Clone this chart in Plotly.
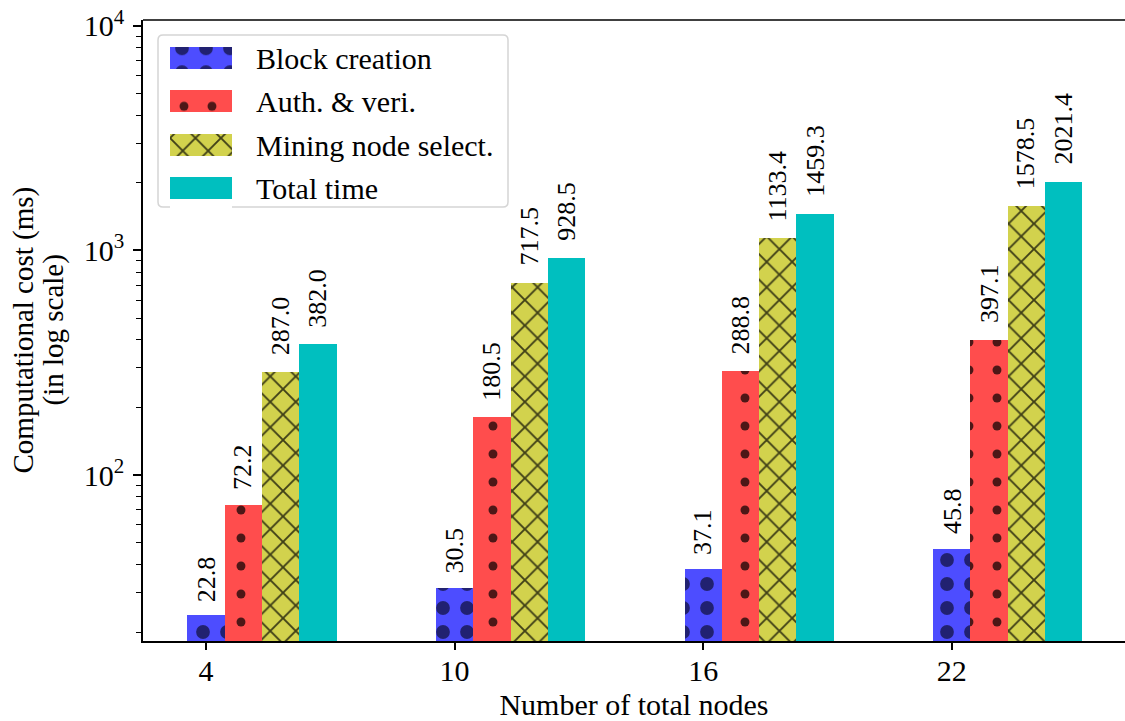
import math
import plotly.graph_objects as go

# Number of total nodes on the x axis
nodes = [4, 10, 16, 22]

# Computational cost (ms) per stage
block_creation = [22.8, 30.5, 37.1, 45.8]
auth_veri = [72.2, 180.5, 288.8, 397.1]
mining_select = [287.0, 717.5, 1133.4, 1578.5]
total_time = [382.0, 928.5, 1459.3, 2021.4]

series_names = ["Block creation", "Auth. & veri.", "Mining node select.", "Total time"]
series_values = [block_creation, auth_veri, mining_select, total_time]

y_tick_vals = [100, 1000, 10000]
y_tick_text = ["10<sup>2</sup>", "10<sup>3</sup>", "10<sup>4</sup>"]
y_title_lines = ["Computational cost (ms)", "(in log scale)"]

FONT = "Liberation Serif"
W, H = 1125, 721
M_L, M_R, M_T, M_B = 143, 0, 20, 80
PW, PH = W - M_L - M_R, H - M_T - M_B

BAR_W = 0.9
fills = ["#4d4dff", "#ff4d4d", "#d2d24d", "#00bfbf"]
patterns = [
    dict(shape=".", size=24, solidity=0.26, fgcolor="#17174d", fgopacity=0.8),
    dict(shape=".", size=28, solidity=0.08, fgcolor="#4d1717", fgopacity=1),
    dict(shape="x", size=18, solidity=0.2, fgcolor="#3f3f17", fgopacity=1),
    dict(shape=""),
]


def px_x(x):
    return (x - M_L) / PW


def px_y(y):
    return (H - M_B - y) / PH


fig = go.Figure()

for i, (name, vals) in enumerate(zip(series_names, series_values)):
    fig.add_trace(go.Bar(
        x=nodes, y=vals, name=name, base=1,
        width=BAR_W, offset=-BAR_W / 2 + i * BAR_W,
        marker=dict(color=fills[i], line=dict(width=0), pattern=patterns[i]),
        showlegend=False,
    ))
    # value labels above each bar (log axis: annotation y is log10 of the value)
    for n, v in zip(nodes, vals):
        fig.add_annotation(
            x=n + i * BAR_W, y=math.log10(v), xref="x", yref="y",
            text=f"{v:.1f}", textangle=-90, showarrow=False,
            xanchor="center", yanchor="bottom", yshift=15,
            font=dict(family=FONT, size=26, color="black"),
        )

# Legend swatches: small horizontal bars on their own axes
leg_rows = [58, 101.5, 145, 188.5]
row_h = leg_rows[1] - leg_rows[0]
for i, name in enumerate(series_names):
    fig.add_trace(go.Bar(
        x=[1], y=[i], orientation="h", base=0, width=0.51,
        marker=dict(color=fills[i], line=dict(width=0), pattern=patterns[i]),
        xaxis="x2", yaxis="y2", showlegend=False, hoverinfo="skip",
    ))
    fig.add_annotation(
        x=px_x(254), y=px_y(leg_rows[i]), xref="paper", yref="paper",
        text=name, showarrow=False, xanchor="left", yanchor="middle",
        font=dict(family=FONT, size=30, color="black"),
    )

# Legend frame with rounded corners
x0, x1 = px_x(158), px_x(508)
y0, y1 = px_y(207), px_y(35)
rx, ry = 5 / PW, 5 / PH
frame = (f"M{x0+rx},{y1} L{x1-rx},{y1} Q{x1},{y1} {x1},{y1-ry} "
         f"L{x1},{y0+ry} Q{x1},{y0} {x1-rx},{y0} L{x0+rx},{y0} "
         f"Q{x0},{y0} {x0},{y0+ry} L{x0},{y1-ry} Q{x0},{y1} {x0+rx},{y1} Z")
fig.add_shape(type="path", path=frame, xref="paper", yref="paper",
              line=dict(color="#d5d5d5", width=1.5), fillcolor="white", layer="below")

# Top spine
fig.add_shape(type="line", x0=0, x1=1, y0=1, y1=1, xref="paper", yref="paper",
              line=dict(color="black", width=1.5))

# Two-line y-axis title with tight line spacing
for line_text, cx in zip(y_title_lines, [23, 53]):
    fig.add_annotation(
        x=px_x(cx), y=0.5, xref="paper", yref="paper",
        text=line_text, textangle=-90, showarrow=False,
        xanchor="center", yanchor="middle",
        font=dict(family=FONT, size=29, color="black"),
    )

minor_vals = [m * 10 ** e for e in (1, 2, 3) for m in range(2, 10)]

fig.update_layout(
    width=W, height=H,
    margin=dict(l=M_L, r=M_R, t=M_T, b=M_B),
    plot_bgcolor="white", paper_bgcolor="white",
    font=dict(family=FONT, color="black"),
    bargap=0, barmode="overlay",
    xaxis=dict(
        range=[2.48, 26.18], tickvals=nodes, ticktext=[str(n) for n in nodes],
        ticks="outside", ticklen=7, tickwidth=1.5, tickcolor="black",
        showline=True, linecolor="black", linewidth=1.5, showgrid=False, zeroline=False,
        tickfont=dict(family=FONT, size=30), ticklabelstandoff=-5,
        title=dict(text="Number of total nodes", font=dict(family=FONT, size=30), standoff=11),
    ),
    yaxis=dict(
        type="log", range=[1.261, 4.026],
        tickvals=y_tick_vals, ticktext=y_tick_text,
        ticks="outside", ticklen=8, tickwidth=1.5, tickcolor="black",
        minor=dict(tickvals=minor_vals, ticks="outside", ticklen=5, tickwidth=1, tickcolor="black"),
        showline=True, linecolor="black", linewidth=1.5, showgrid=False, zeroline=False,
        tickfont=dict(family=FONT, size=30), ticklabelstandoff=3,
    ),
    xaxis2=dict(domain=[px_x(170), px_x(232)], range=[0, 1], anchor="y2",
                visible=False, fixedrange=True),
    yaxis2=dict(domain=[px_y(leg_rows[3] + row_h / 2), px_y(leg_rows[0] - row_h / 2)],
                range=[3.5, -0.5], anchor="x2", visible=False, fixedrange=True),
)

fig.write_html("out.html")
